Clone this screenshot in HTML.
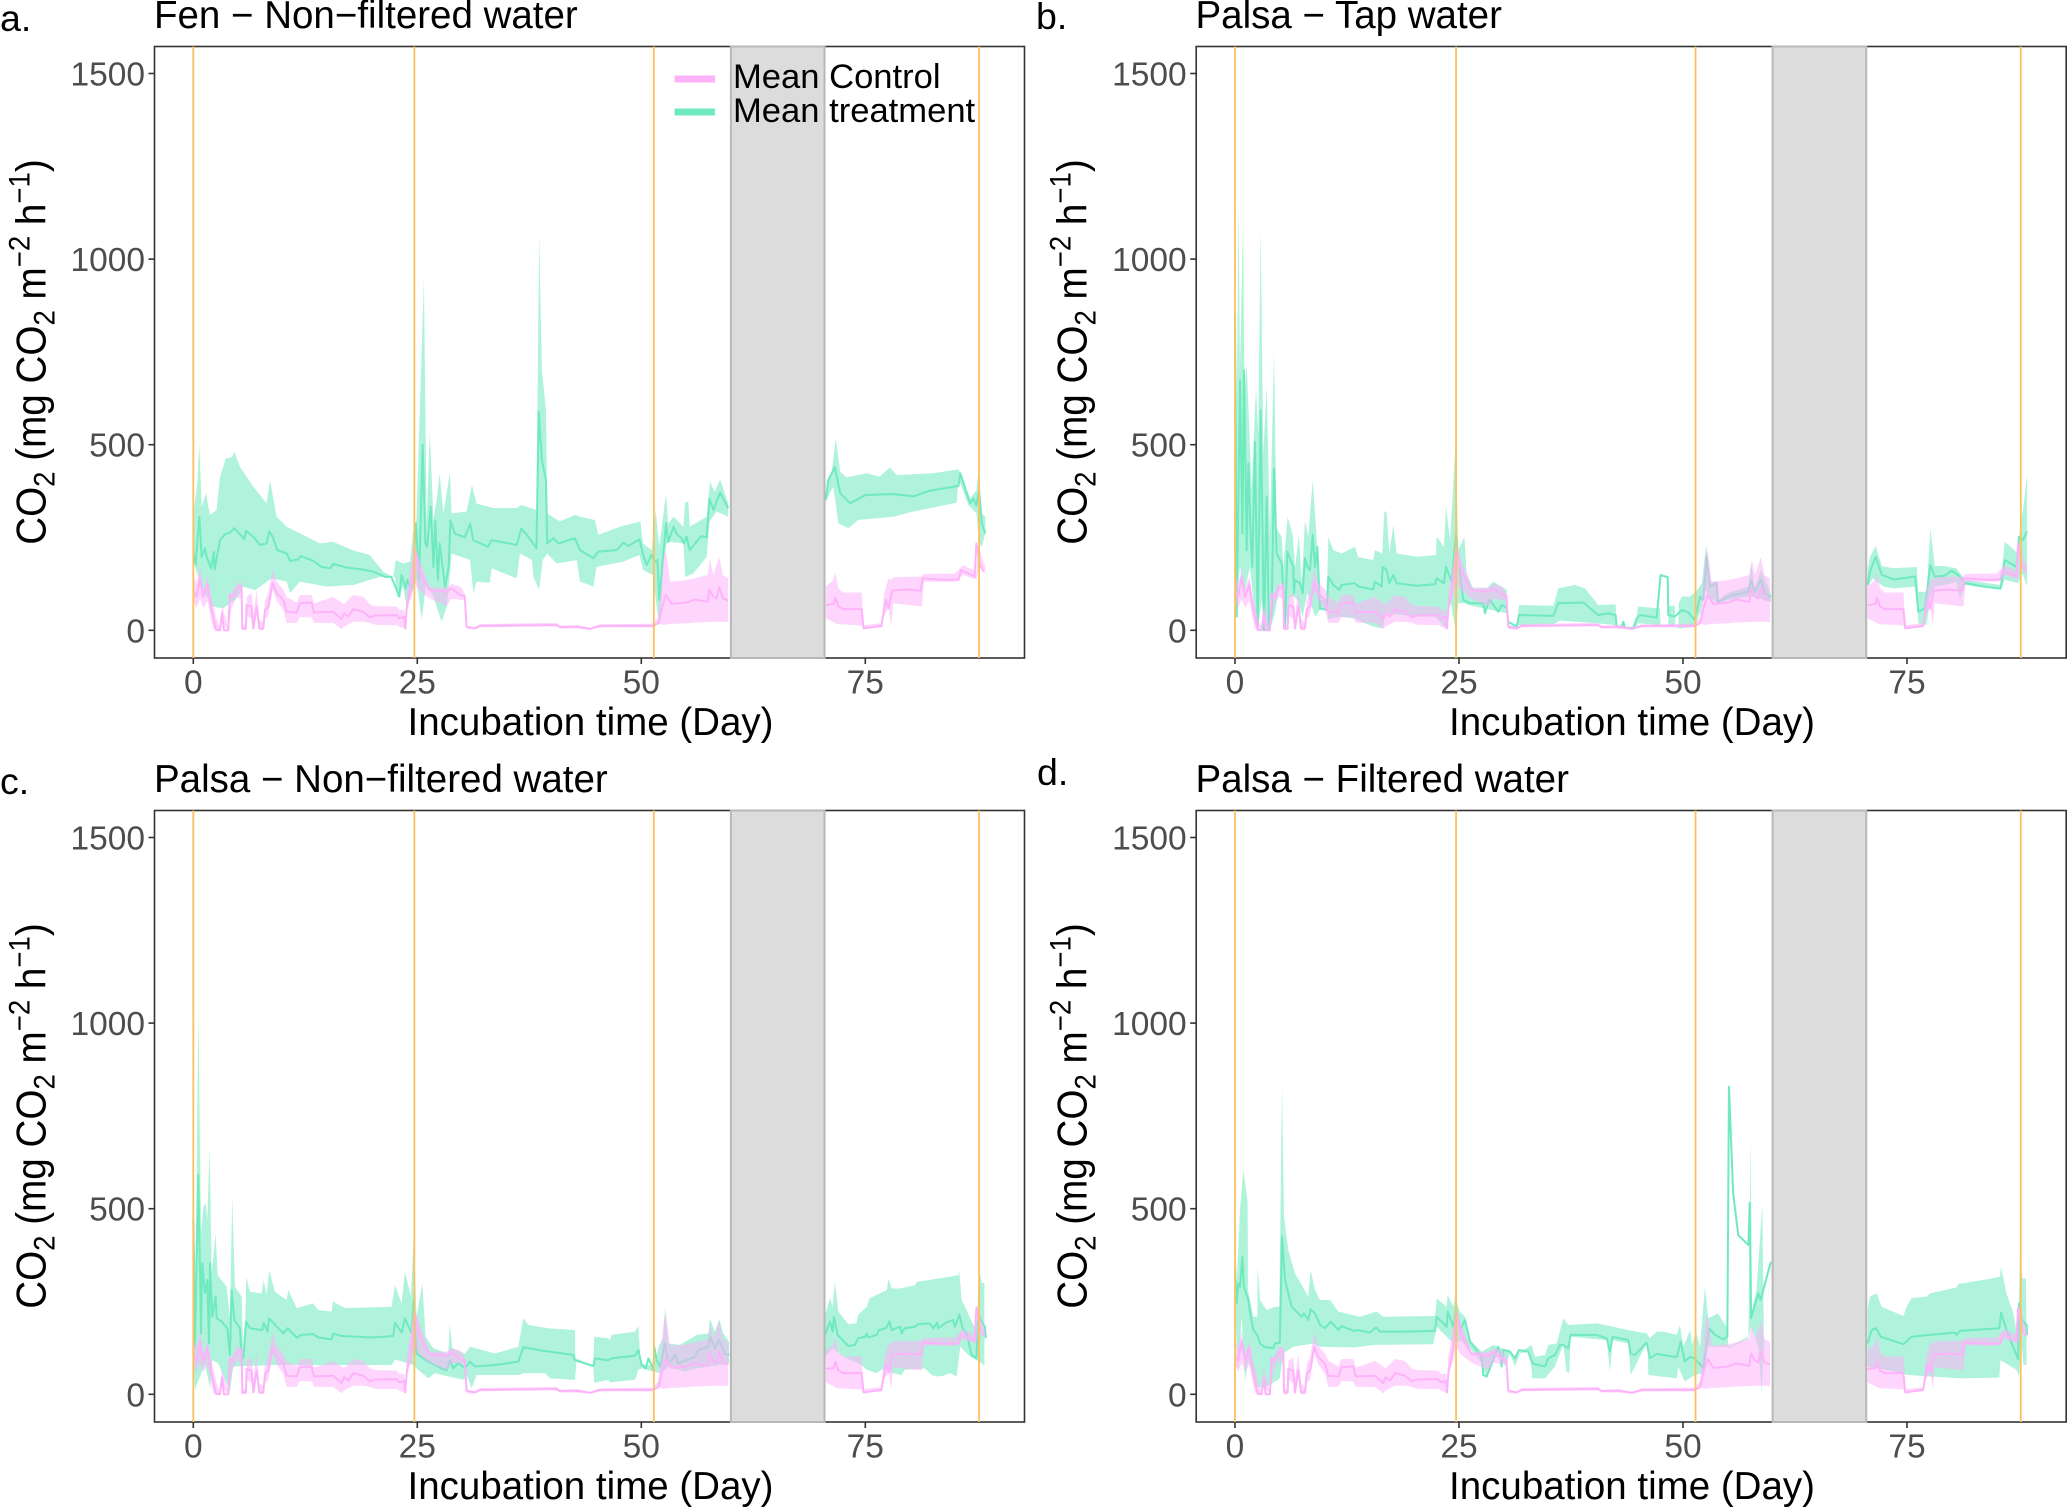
<!DOCTYPE html>
<html lang="en">
<head>
<meta charset="utf-8">
<title>CO2 flux during incubation</title>
<style>
html,body{margin:0;padding:0;background:#fff}
svg{display:block}
text{font-family:"Liberation Sans",Arial,sans-serif}
.title{font-size:38.5px;fill:#000}
.letter{font-size:37.5px;fill:#000}
.xtitle{font-size:38.5px;fill:#000;text-anchor:middle}
.ytitle{font-size:42px;fill:#000;text-anchor:middle}
.sub{font-size:30px}
.legend{font-size:34.6px;fill:#000}
.tick{font-size:33.5px;fill:#4d4d4d}
</style>
</head>
<body>
<svg id="figure" xmlns="http://www.w3.org/2000/svg" width="2067" height="1508" viewBox="0 0 2067 1508">
  <rect width="2067" height="1508" fill="#fff"/>

  <g id="panel-a"></g>
  <g id="panel-b"></g>
  <g id="panel-c"></g>
  <g id="panel-d"></g>

  <text class="letter" x="0" y="31">a.</text>
  <text class="letter" x="1036" y="29">b.</text>
  <text class="letter" x="0" y="794">c.</text>
  <text class="letter" x="1037" y="785">d.</text>

  <text class="title" x="154" y="28">Fen − Non−filtered water</text>
  <text class="title" x="1195.5" y="28">Palsa − Tap water</text>
  <text class="title" x="154" y="792">Palsa − Non−filtered water</text>
  <text class="title" x="1195.5" y="792">Palsa − Filtered water</text>

  <text class="xtitle" x="590.5" y="735">Incubation time (Day)</text>
  <text class="xtitle" x="1632" y="735">Incubation time (Day)</text>
  <text class="xtitle" x="590.5" y="1499">Incubation time (Day)</text>
  <text class="xtitle" x="1632" y="1499">Incubation time (Day)</text>

  <text class="ytitle" transform="translate(45.5,352) rotate(-90) scale(0.92,1)">CO<tspan class="sub" dy="9">2</tspan><tspan dy="-9"> (mg CO</tspan><tspan class="sub" dy="9">2</tspan><tspan dy="-9"> m</tspan><tspan class="sub" dy="-16">−2</tspan><tspan dy="16"> h</tspan><tspan class="sub" dy="-16">−1</tspan><tspan dy="16">)</tspan></text>
  <text class="ytitle" transform="translate(1086.5,352) rotate(-90) scale(0.92,1)">CO<tspan class="sub" dy="9">2</tspan><tspan dy="-9"> (mg CO</tspan><tspan class="sub" dy="9">2</tspan><tspan dy="-9"> m</tspan><tspan class="sub" dy="-16">−2</tspan><tspan dy="16"> h</tspan><tspan class="sub" dy="-16">−1</tspan><tspan dy="16">)</tspan></text>
  <text class="ytitle" transform="translate(45.5,1116) rotate(-90) scale(0.92,1)">CO<tspan class="sub" dy="9">2</tspan><tspan dy="-9"> (mg CO</tspan><tspan class="sub" dy="9">2</tspan><tspan dy="-9"> m</tspan><tspan class="sub" dy="-16">−2</tspan><tspan dy="16"> h</tspan><tspan class="sub" dy="-16">−1</tspan><tspan dy="16">)</tspan></text>
  <text class="ytitle" transform="translate(1086.5,1116) rotate(-90) scale(0.92,1)">CO<tspan class="sub" dy="9">2</tspan><tspan dy="-9"> (mg CO</tspan><tspan class="sub" dy="9">2</tspan><tspan dy="-9"> m</tspan><tspan class="sub" dy="-16">−2</tspan><tspan dy="16"> h</tspan><tspan class="sub" dy="-16">−1</tspan><tspan dy="16">)</tspan></text>

  <g>
    <rect x="674.5" y="75.5" width="40.5" height="7" fill="#fdb3fa"/>
    <text class="legend" x="733" y="88">Mean Control</text>
    <rect x="674.5" y="108.5" width="40.5" height="7" fill="#6fe9c0"/>
    <text class="legend" x="733" y="122">Mean treatment</text>
  </g>
</svg>

<script>
const xTickLabels = [0, 25, 50, 75];
const yTickLabels = [0, 500, 1000, 1500];
const floodDays = [0, 24.67, 51.4, 87.7];
const gapWindow = [60, 70.45];

const controlMeanDays = [0,.37,.74,1.12,1.6,1.97,2.23,2.53,2.98,3.2,
3.42,3.9,4.09,4.28,4.84,5.39,5.47,5.88,5.95,6.51,
6.7,7.07,7.37,7.81,8,8.37,8.85,9.3,10.04,10.42,
11.53,11.9,13.2,13.47,15.6,16.55,16.8,17.3,17.86,18.97,
19.7,20.3,22.7,23,23.55,23.66,23.8,24.37,24.67,25.1,
25.86,26.4,28.3,28.8,29.8,30.3,30.5,31.4,32,40.55,
40.9,42.8,44.3,45.4,51.3,51.9,52.3,52.76,53.4,55.05,
55.96,57.4,57.6,58,58.4,58.7,59.1,59.7,null,70.6,
71.5,71.65,72,72.55,74.6,74.8,76.8,77.1,77.3,77.6,
78,79.7,81.2,81.4,84,84.9,85.4,85.7,87.2,87.4,
87.8,88.2];
const controlMean = [104,90,143,90,125,64,35,1,0,46,
0,0,98,90,113,118,5,5,68,64,
5,64,5,5,55,64,127,100,82,50,
48,73,75,48,50,30,46,37,57,50,
35,40,41,32,37,5,55,127,225,171,
131,108,104,113,95,92,10,5,12,14,
9,10,4,12,12,19,60,95,71,75,
83,77,110,91,86,116,86,80,null,68,
71,88,64,57,57,5,12,55,82,59,
107,110,107,140,136,137,136,162,145,234,
176,158];
const controlBandDays = [0,.37,.74,1.12,1.6,1.97,2.23,2.53,2.98,3.2,
3.9,4.28,4.84,5.39,5.47,5.88,5.95,6.51,6.7,7.07,
7.37,7.81,8,8.37,8.85,9.3,10.04,10.42,11.53,11.9,
13.2,13.47,15.6,16.55,16.8,17.86,18.97,19.7,20.3,22.7,
23,23.55,23.66,23.8,24.37,24.67,25.1,25.86,26.4,28.3,
28.8,29.8,30.3,30.5,31.4,32,40.55,40.9,42.8,44.3,
45.4,51.3,51.9,52.5,52.76,53.2,55.05,55.96,57.4,57.67,
58.04,58.7,59.1,59.7,null,70.6,71.4,71.65,72,72.5,
74.6,74.8,76.8,77.1,77.6,77.9,78.1,81.3,81.55,85,
85.9,87.4,87.6,88,88.4];
const controlLow = [80,60,85,60,80,30,5,0,0,20,
0,60,90,85,0,0,40,30,0,50,
0,0,30,40,110,80,55,20,20,35,
35,20,20,3,10,23,23,20,15,14,
10,5,0,60,90,130,110,95,85,65,
85,82,80,3,2,8,12,5,5,1,
8,8,20,14,16,17,19,21,22,23,
23,23,23,22,null,32,23,19,16,16,
13,5,8,41,59,14,73,64,131,131,
149,137,162,175,149];
const controlHigh = [150,125,170,110,145,90,70,35,5,70,
5,90,125,130,15,15,90,100,40,110,
30,20,80,100,165,130,110,90,75,95,
95,72,90,75,70,95,90,70,65,64,
55,55,10,100,180,235,200,150,115,115,
125,118,100,12,8,17,20,12,14,7,
16,18,35,198,216,131,135,140,149,190,
149,198,149,140,null,118,135,155,113,102,
102,14,19,100,140,135,143,145,152,153,
176,158,234,198,171];

const fenMeanDays = [.04,.26,.67,.93,1.3,1.5,1.97,2.3,2.38,2.98,
3.53,4.09,4.58,5.2,5.7,5.88,6.7,7.44,8.18,8.48,
8.85,9.37,10.42,10.8,11.7,12,13.4,14.3,15.3,15.6,
17.1,18.8,20.1,21.4,22.1,23,23.25,23.7,23.9,24.37,
24.85,25.2,25.6,25.9,26.1,26.5,26.8,27,27.3,27.5,
28.1,28.5,28.7,29.2,30.3,30.9,31.25,32.9,33.3,36.1,
36.6,37.4,38.3,38.55,38.9,39.36,39.5,40.2,40.75,42.6,
43.16,44.65,45.2,47.25,48,48.55,49.8,50.2,50.6,51.16,
51.5,51.8,52,52.76,53,53.6,53.95,54.5,54.76,55.06,
55.4,56,56.7,57.3,57.6,58.04,58.8,59.7,null,70.58,
70.87,71.6,72.2,73.3,75,78,80.4,82.2,85.4,85.6,
86.7,87.05,87.4,87.7,88,88.4];
const fenMean = [207,176,306,198,221,198,167,211,164,243,
259,263,275,259,245,268,252,230,234,267,
252,216,207,187,191,200,187,171,167,179,
169,164,158,144,144,91,149,113,136,108,
288,136,499,234,225,333,171,296,136,234,
117,171,296,260,251,287,243,225,243,230,
274,252,221,589,459,405,234,248,234,248,
216,194,212,216,236,227,245,203,176,203,
185,190,82,288,238,279,259,248,234,252,
216,234,254,250,355,324,371,329,null,351,
405,439,369,342,364,367,361,376,389,423,
342,355,337,378,288,261];
const fenHighDays = [0,.45,.67,.93,1.41,1.86,2.6,2.98,3.65,4.28,
4.58,5.2,6.7,8.18,8.56,9.3,10.42,11.9,14.14,15.55,
17.86,19.7,21.2,22.3,22.6,23.4,24.2,24.55,24.9,25.74,
26.04,26.4,26.8,27.15,27.5,27.9,28.64,28.83,30.5,31.1,
31.6,33.5,36.1,36.6,38.3,38.6,38.9,39.36,39.5,40.9,
42.6,43.16,44.83,45.2,47.6,49.9,50.2,51.16,51.6,52,
52.76,53,53.6,54.7,54.9,55.25,55.4,57.3,57.67,58.2,
58.8,59.7,null,70.58,71.25,71.7,72.2,72.9,75.15,76.6,
77.75,78.5,82.6,85.4,85.76,86.7,87.4,87.6,88,88.4];
const fenHigh = [310,396,504,333,369,311,324,414,463,466,
481,441,387,342,405,306,279,261,234,239,
215,203,158,144,189,180,185,270,297,950,
288,535,297,351,423,315,423,315,320,391,
342,329,329,338,324,1068,700,593,315,293,
311,306,297,257,279,293,234,216,324,225,
369,288,306,279,346,346,279,306,400,373,
407,342,null,369,427,517,427,412,423,414,
439,418,423,434,414,355,378,423,315,306];
const fenLowDays = [0,.19,.67,1.3,2.05,3.35,4.84,5.58,6.88,8.74,
10.42,10.8,11.9,14.9,17.86,20.8,22.5,22.8,23.4,23.8,
24.9,25.5,26,26.8,27.7,28.3,28.83,30.9,31.25,31.6,
33.1,33.3,36.1,36.45,37.8,37.95,38.6,39,39.5,40.55,
42.8,43.15,44.65,45,48,49.8,50.2,51.3,51.8,52.1,
52.5,52.76,52.9,54.7,54.9,55.8,57.3,57.6,58.4,59.7,
null,70.58,71.4,71.7,72,73.1,74.2,78.1,80.4,85.2,
85.4,86.5,87.4,87.7,88,88.4];
const fenLow = [207,171,136,100,64,59,86,118,108,140,
131,100,131,118,122,144,144,86,118,64,
136,28,127,91,23,64,207,189,100,131,
128,167,140,207,189,144,109,189,207,180,
189,131,118,171,185,203,162,149,46,10,
189,225,239,234,144,153,198,292,320,306,
null,346,387,342,288,275,297,306,320,344,
409,338,315,234,225,261];

const tapMeanDays = [0,.19,.56,.82,1,1.3,1.49,1.75,1.93,2.23,
2.53,2.86,3.24,3.53,3.79,4.09,4.35,4.65,5.21,5.58,
5.84,6.51,6.58,6.7,7.25,7.55,7.81,8.07,8.37,8.67,
8.93,9.19,9.49,10.23,10.42,10.97,11.64,11.9,13.39,13.76,
15.44,15.62,16.37,16.48,16.93,17.22,17.67,18.04,20.27,22.32,
22.51,23.32,23.55,24.18,24.66,24.81,25.48,26.23,27.71,27.9,
28.38,29.39,29.76,30.32,30.5,31.43,31.7,35.53,36.08,38.87,
40.55,41.66,42.48,42.59,43.15,43.34,43.52,44.45,44.83,45.2,
47.06,47.5,48.29,48.36,49.1,49.85,50.6,51.3,51.9,52.27,
52.64,53,53.75,53.9,55,57.3,57.6,58,58.7,59.15,
59.8,null,70.6,70.87,71.5,72.2,73.5,75.9,76.26,77,
77.6,78.1,79.2,80,80.7,81.5,83.5,85.45,85.9,87.2,
87.5,87.95,88.4];
const tapMean = [854,37,674,261,701,216,450,252,171,508,
10,593,0,360,0,45,436,207,180,10,
212,171,100,135,127,100,194,171,162,257,
171,225,59,55,145,122,109,122,127,118,
110,131,118,171,162,127,149,127,120,124,
140,127,171,131,261,216,82,73,73,46,
84,50,68,62,23,10,41,39,73,75,
41,46,41,10,10,23,7,5,32,41,
34,149,143,41,37,55,48,28,91,82,
198,118,127,75,91,104,136,104,136,100,
89,null,122,158,198,149,137,145,50,59,
176,145,147,161,149,127,118,113,189,171,
252,243,267];
const tapHighDays = [0,.2,.4,.55,.9,1.05,1.3,1.86,2.34,2.6,
2.86,3.16,3.53,3.9,4.35,4.65,5.21,5.39,5.88,6.44,
6.7,7.14,7.44,7.81,8.18,8.67,9.1,9.49,10.23,10.42,
10.97,11.9,13.39,13.76,15.44,15.62,16.44,16.67,16.93,17.22,
17.67,18.04,20.27,22.43,22.51,23.32,23.55,24,24.63,24.92,
25.6,25.85,26.6,28.09,28.83,30.32,30.4,31.43,31.7,35.53,
36.08,37.94,39.06,40.55,42.48,42.59,44.64,45,47.43,47.5,
48.36,48.37,49.1,49.12,49.5,49.52,49.85,50.8,51.6,52.1,
52.6,52.9,53.75,53.9,55,57.3,57.6,58,58.7,59.8,
null,70.6,70.87,71.5,72.2,73.5,76.1,76.26,77.2,77.6,
78.1,79.2,80.5,81.5,85.45,85.9,87.4,87.7,87.95,88.4];
const tapHigh = [860,620,1160,700,1100,640,719,380,656,530,
1087,476,660,260,755,275,252,171,306,257,
171,257,127,297,252,405,252,82,82,252,
216,207,225,197,189,216,207,322,315,207,
284,207,198,203,252,225,335,243,513,216,
252,153,113,113,131,109,14,10,68,66,
113,122,113,68,70,10,10,64,59,14,
14,66,66,14,14,73,91,91,109,127,
234,127,131,82,101,118,180,113,162,100,
null,162,198,227,173,167,171,104,104,275,
173,173,167,136,122,239,207,302,324,418];
const tapLowDays = [0,.56,1.12,1.67,2.05,2.53,2.98,3.24,3.9,4.46,
5,5.39,5.58,6.14,6.58,6.96,7.55,8.07,8.93,9.49,
10.3,10.42,11.7,13.2,15.44,16.55,16.74,20.27,22.32,23.62,
24,24.63,24.92,25.56,26,30.32,30.5,31.7,35.53,36.27,
40.36,42.48,42.59,44.64,45,47.4,49.1,49.5,51.3,51.9,
52.45,52.9,53.9,55,57.3,58,59.8,null,70.6,71.2,
72.35,73.5,76.1,76.26,77.2,77.56,78.1,79.2,80.5,80.9,
81.5,85.45,85.9,87.4,87.9,88.4];
const tapLow = [50,171,108,171,82,1,82,1,1,46,
126,126,5,91,91,82,37,100,37,55,
59,30,37,32,10,5,46,37,37,5,
82,1,73,73,68,46,5,14,17,26,
19,14,5,4,19,14,14,5,10,46,
113,90,73,82,91,91,75,null,118,140,
118,113,118,19,14,86,118,122,130,83,
122,109,136,127,153,118];

const unfilteredMeanDays = [0,.19,.56,.86,1,1.3,1.56,1.75,1.86,2.12,
2.49,2.6,3.16,3.79,4.09,4.28,4.58,5.21,5.39,5.58,
5.88,6.32,7.7,7.85,8.3,8.44,9.49,10.04,10.53,11.53,
12.09,13.39,13.95,15.44,15.62,16.55,19.9,22.32,22.51,23.25,
23.62,24.37,24.59,24.92,25.67,26.23,27.71,28.27,28.64,29,
29.57,30.32,30.88,31.43,33.67,36.27,36.83,38.87,42.41,42.6,
44.64,44.83,46.3,46.7,49.3,49.67,50.04,50.5,50.8,51.34,
51.45,51.7,52.1,52.64,53,53.8,54.1,56,56.36,57.5,
57.67,58.2,58.7,59.3,59.8,null,70.5,71.06,71.35,71.5,
71.9,73.1,73.85,74.2,75,75.15,75.35,76.27,76.5,77.3,
77.7,77.94,78.9,79.06,79.4,80.55,80.9,82.2,82.6,83,
83.15,84,84.8,85,85.5,85.86,86.3,86.87,87.4,87.6,
87.98,88.35,88.45];
const unfilteredMean = [470,128,591,164,353,272,308,137,353,209,
263,205,196,178,106,281,200,178,97,97,
196,178,173,193,169,205,178,164,178,153,
160,162,153,148,164,157,153,157,193,166,
205,164,254,110,97,88,70,65,92,70,
84,70,88,75,79,88,127,118,106,92,
76,97,91,97,104,119,79,70,97,66,
128,92,75,137,83,106,83,101,119,128,
155,124,146,110,106,null,160,196,169,209,
160,130,133,151,155,164,153,160,173,178,
196,173,182,164,178,182,189,191,178,193,
178,193,200,182,215,178,164,106,97,218,
196,182,151];
const unfilteredHighDays = [0,.26,.56,.86,1.12,1.38,1.56,1.82,2.05,2.49,
2.72,3.72,4.09,4.35,4.65,5.39,5.58,5.77,5.91,6.32,
7.63,7.85,8.18,8.48,9.11,10.42,10.6,11.53,13.39,13.95,
15.44,15.59,16.93,22.13,22.51,23.25,23.62,24.3,24.59,24.92,
25.56,25.93,26.78,28.46,28.64,28.9,30.32,30.88,33.67,36.27,
36.83,37.39,39.62,42.6,42.63,44.64,44.75,46.3,46.5,46.7,
49.3,49.67,49.93,51.34,52,52.46,52.64,53,54.3,56.2,
57.5,57.67,58.2,58.7,59.15,59.8,null,70.5,71.06,71.35,
71.6,72,73.1,74,74.2,75.15,75.5,77.4,77.6,77.94,
78.9,80.55,80.75,82.6,84.45,85.4,85.48,85.75,86.3,86.7,
87.4,87.7,88,88.3];
const unfilteredHigh = [470,344,1040,433,505,514,470,667,326,433,
321,290,209,532,290,263,97,165,317,276,
272,308,268,335,276,254,281,232,245,227,
223,250,232,236,294,245,330,263,433,209,
299,155,124,110,191,124,110,128,110,128,
205,187,178,173,97,79,155,151,146,160,
169,184,84,75,133,155,236,137,133,160,
164,205,168,202,164,142,null,214,259,236,
303,223,189,191,214,236,259,281,312,285,
285,294,303,310,317,321,333,254,227,205,
173,339,301,299];
const unfilteredLowDays = [0,.19,1.3,1.86,2.12,2.79,4.09,4.46,9.11,22.13,
22.51,24.55,24.92,26.23,26.97,28.46,30.32,30.43,31.06,31.62,
36.46,36.83,39.25,39.8,42.6,42.78,44.64,44.75,46.3,46.5,
49.3,49.67,50.04,51.34,52,52.64,53,54.9,56.2,59.8,
null,70.5,71.4,72.55,74.6,75.15,76.2,77.4,78.05,79.06,
79.4,81.66,82.4,83,83.7,84.45,85.2,85.6,86.7,87.4,
87.98,88.3];
const unfilteredLow = [75,12,83,16,92,83,7,75,79,79,
94,79,70,43,57,48,39,57,16,52,
52,57,57,43,39,92,79,31,39,32,
39,66,70,61,57,65,74,61,70,83,
null,101,124,101,79,66,57,74,57,52,
66,70,52,48,50,57,48,128,101,92,
83,76];

const filteredMeanDays = [0,.19,.37,.56,.82,1,1.49,1.75,2.05,2.49,
2.79,3.35,4.28,4.46,5,5.25,5.58,6.32,7.44,7.7,
8.18,8.44,8.93,9.49,10.04,10.71,11.53,11.9,13.2,13.76,
15.07,15.74,16.18,17.67,19.16,22.32,22.51,23.62,23.73,24.37,
24.66,25.1,25.67,26.23,27.53,27.71,28.09,29.39,29.76,29.95,
30.69,31.25,31.7,32.74,33.18,34.6,34.97,35.71,36.27,36.64,
37.2,37.46,40.36,41.48,41.85,42.15,43.9,44.16,44.64,45.94,
46.3,47.06,49.3,49.74,50.2,50.8,51.3,52.27,52.9,53.57,
54.5,54.95,55.13,55.6,56.17,57.3,57.44,57.6,58.4,58.67,
59.8,null,70.6,71.05,71.54,72.06,74.6,75.5,77.56,80.35,
80.55,80.9,85.3,85.5,86.1,87.4,87.5,87.8,88.35,88.4];
const filteredMean = [335,245,299,290,371,290,254,209,173,160,
137,127,124,137,139,426,308,236,209,218,
200,229,218,187,178,196,173,184,171,173,
166,180,169,169,169,171,209,182,223,182,
232,173,200,142,101,52,48,128,75,120,
115,97,119,115,83,75,97,106,133,133,
124,160,160,151,115,155,146,109,106,139,
97,109,100,142,88,101,97,70,178,160,
148,155,829,541,429,402,516,205,272,254,
357,null,137,173,178,155,135,155,160,166,
160,171,178,220,173,94,245,200,187,160];
const filteredHighDays = [0,.19,.56,.93,1.41,1.45,2.05,2.49,2.53,2.79,
3.53,4.46,4.95,5.25,5.47,5.95,6.7,8.18,8.44,8.93,
9.49,10.6,11.53,13.95,15.81,16.55,22.32,22.51,23.62,23.73,
24.37,24.55,25.1,25.67,26.23,27.53,28.83,30.69,31.06,33.1,
33.48,34.6,34.97,35.9,36.64,37.2,40.36,42.2,43.9,45.94,
46.3,47.06,47.8,49.3,49.66,50.04,50.8,51,51.45,51.9,
52.45,52.8,53.9,54.95,55.06,57.3,57.55,57.7,58.2,58.85,
59.04,59.8,null,70.6,70.87,71.6,72.17,74.6,74.96,75.5,
77.2,77.56,80.54,80.73,84.26,85.38,85.5,86.1,86.87,87.4,
87.6,87.9,88.28];
const filteredHigh = [501,299,498,604,519,281,209,209,344,254,
227,236,236,838,478,389,326,263,335,281,
254,254,223,209,223,209,211,259,236,268,
236,263,223,209,146,115,133,115,101,133,
101,106,133,137,205,187,191,182,173,164,
151,169,169,160,187,128,173,133,169,128,
290,205,218,178,128,155,694,227,281,514,
128,357,null,227,263,272,236,211,236,259,
263,272,288,297,311,317,344,272,218,146,
371,312,312];
const filteredLowDays = [0,.37,.74,1.12,1.49,2.49,3.16,3.9,5,5.39,
6.51,8.74,9.49,13.2,15.62,22.13,22.51,23.62,24.37,25.1,
26.23,27.53,28.09,29.39,30.13,30.69,31.25,31.8,32.92,33.18,
34.6,35.71,36.64,37,37.3,37.46,41.48,41.85,42.15,43.9,
44.16,46.05,46.13,49.3,49.48,50.2,51.3,52.27,52.8,54.5,
54.95,55.13,57.3,57.6,58.4,58.78,59.04,59.8,null,70.6,
74.6,75,80.9,85.3,85.44,87.2,87.5,87.8,88,88.35];
const filteredLow = [209,66,209,34,92,21,16,25,43,110,
128,137,128,126,133,135,182,155,137,146,
124,83,43,119,75,110,75,110,115,43,
43,75,133,61,57,155,146,61,146,137,
52,142,52,43,74,34,52,57,128,128,
128,125,150,182,128,7,128,345,null,75,
57,52,43,45,92,66,48,128,79,79];

const NS = 'http://www.w3.org/2000/svg';
const TREAT = '#6fe9c0';
const CTRL = '#fdb3fa';

function shape(tag, parent, attrs) {
  const el = document.createElementNS(NS, tag);
  for (const k in attrs) el.setAttribute(k, attrs[k]);
  parent.appendChild(el);
  return el;
}
function segments(days, values) {
  const out = [[]];
  const n = Math.min(days.length, values.length);
  for (let i = 0; i < n; i++) {
    if (values[i] === null || days[i] === null) out.push([]);
    else out[out.length - 1].push([days[i], values[i]]);
  }
  return out;
}
function linePath(seg, sx, sy) {
  return seg.map((p, i) => (i ? 'L' : 'M') + sx(p[0]).toFixed(2) + ' ' + sy(p[1]).toFixed(2)).join('');
}
function bandPath(hiDays, hi, loDays, lo, sx, sy) {
  const hs = segments(hiDays, hi);
  const ls = segments(loDays, lo);
  let d = '';
  for (let i = 0; i < hs.length; i++) {
    const back = ls[i].slice().reverse();
    d += linePath(hs[i].concat(back), sx, sy) + 'Z';
  }
  return d;
}

function drawPanel(id, dx, dy, series) {
  const g = document.getElementById(id);
  const left = 154.5 + dx, right = 1024.5 + dx, top = 46.5 + dy, bottom = 658 + dy;
  const sx = d => 193.3 + dx + d * 8.96;
  const sy = v => 630.3 + dy - v * 0.3712;

  const bg = shape('rect', g, {x: left, y: top, width: right - left, height: bottom - top, fill: '#fff'});
  
  

  const tBand = shape('path', g, {d: bandPath(series.hiDays, series.hi, series.loDays, series.lo, sx, sy), fill: TREAT, 'fill-opacity': 0.55});
  
  

  const tLine = shape('path', g, {d: segments(series.meanDays, series.mean).map(s => linePath(s, sx, sy)).join(''), fill: 'none', stroke: TREAT, 'stroke-width': 2, 'stroke-linejoin': 'round'});
  
  

  const cBand = shape('path', g, {d: bandPath(controlBandDays, controlHigh, controlBandDays, controlLow, sx, sy), fill: CTRL, 'fill-opacity': 0.55});
  
  

  const cLine = shape('path', g, {d: segments(controlMeanDays, controlMean).map(s => linePath(s, sx, sy)).join(''), fill: 'none', stroke: CTRL, 'stroke-width': 2, 'stroke-linejoin': 'round'});
  
  

  const frame = shape('rect', g, {x: left, y: top, width: right - left, height: bottom - top, fill: 'none', stroke: '#333', 'stroke-width': 1.6});
  
  

  const gap = shape('rect', g, {x: sx(gapWindow[0]), y: top, width: sx(gapWindow[1]) - sx(gapWindow[0]), height: bottom - top, fill: '#dcdcdc', stroke: '#b8b8b8', 'stroke-width': 2});
  
  

  floodDays.forEach(function (d) {
    const v = shape('line', g, {x1: sx(d), x2: sx(d), y1: top, y2: bottom, stroke: '#fdc060', 'stroke-width': 1.8});
    
    
  });

  xTickLabels.forEach(function (t) {
    const m = shape('line', g, {x1: sx(t), x2: sx(t), y1: bottom, y2: bottom + 6, stroke: '#333', 'stroke-width': 1.6});
    
    
    const l = shape('text', g, {x: sx(t), y: 693.5 + dy, 'text-anchor': 'middle', class: 'tick'});
    
    
    l.textContent = t;
  });
  yTickLabels.forEach(function (t) {
    const m = shape('line', g, {x1: left - 6, x2: left, y1: sy(t), y2: sy(t), stroke: '#333', 'stroke-width': 1.6});
    
    
    const l = shape('text', g, {x: left - 9.5, y: sy(t) + 12, 'text-anchor': 'end', class: 'tick'});
    
    
    l.textContent = t;
  });
}

drawPanel('panel-a', 0, 0, {meanDays: fenMeanDays, mean: fenMean, hiDays: fenHighDays, hi: fenHigh, loDays: fenLowDays, lo: fenLow});
drawPanel('panel-b', 1041.7, 0, {meanDays: tapMeanDays, mean: tapMean, hiDays: tapHighDays, hi: tapHigh, loDays: tapLowDays, lo: tapLow});
drawPanel('panel-c', 0, 764, {meanDays: unfilteredMeanDays, mean: unfilteredMean, hiDays: unfilteredHighDays, hi: unfilteredHigh, loDays: unfilteredLowDays, lo: unfilteredLow});
drawPanel('panel-d', 1041.7, 764, {meanDays: filteredMeanDays, mean: filteredMean, hiDays: filteredHighDays, hi: filteredHigh, loDays: filteredLowDays, lo: filteredLow});
</script>
</body>
</html>
